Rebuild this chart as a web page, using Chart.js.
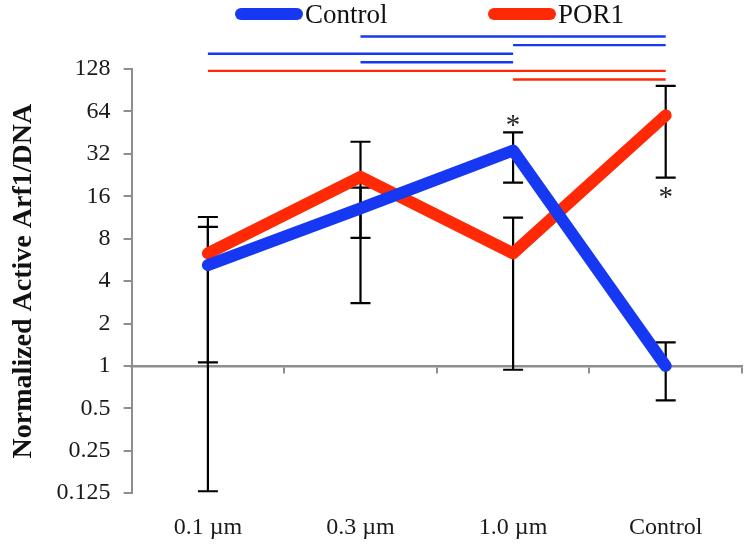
<!DOCTYPE html>
<html>
<head>
<meta charset="utf-8">
<script src="https://cdn.jsdelivr.net/npm/chart.js@4.4.1/dist/chart.umd.min.js"></script>
<style>
  html, body { margin: 0; padding: 0; background: #ffffff; }
  #wrap { width: 750px; height: 551px; position: relative; }
</style>
</head>
<body>
<div id="wrap"><canvas id="c" width="750" height="551"></canvas></div>
<script>
// ---- data ----
const categories = ['0.1 \u00b5m', '0.3 \u00b5m', '1.0 \u00b5m', 'Control'];
const yTicks = [0.125, 0.25, 0.5, 1, 2, 4, 8, 16, 32, 64, 128];

const controlValues = [5.2, 13.1, 33.8, 1.0];
const controlLow    = [0.129, 8.1, 20, 0.57];
const controlHigh   = [9.7, 18.4, 45.5, 1.47];

const por1Values = [6.3, 22, 6.3, 60];
const por1Low    = [1.06, 2.79, 0.94, 21.7];
const por1High   = [11.4, 39, 11.3, 97];

// significance bars: [seriesIndex, fromCategory, toCategory], top to bottom
const sigBars = [[0, 1, 3], [0, 2, 3], [0, 0, 2], [0, 1, 2], [1, 0, 3], [1, 2, 3]];
// asterisks: [seriesIndex, categoryIndex, side]
const stars = [[0, 2, 'above'], [1, 3, 'below']];

const BLUE = '#1638f2';
const RED = '#ff2a05';
const AXIS = '#8e8e8e';
const SERIF = "'Liberation Serif', 'Times New Roman', serif";

const errLow = [controlLow, por1Low];
const errHigh = [controlHigh, por1High];

const errorBarPlugin = {
  id: 'errorBars',
  beforeDatasetsDraw(chart) {
    const ctx = chart.ctx, x = chart.scales.x, y = chart.scales.y;
    ctx.save();
    ctx.strokeStyle = '#000';
    ctx.lineWidth = 2.2;
    for (let s = 0; s < 2; s++) {
      for (let i = 0; i < categories.length; i++) {
        const px = x.getPixelForValue(i);
        const y1 = y.getPixelForValue(errLow[s][i]);
        const y2 = y.getPixelForValue(errHigh[s][i]);
        ctx.beginPath();
        ctx.moveTo(px, y1); ctx.lineTo(px, y2);
        ctx.moveTo(px - 10, y1); ctx.lineTo(px + 10, y1);
        ctx.moveTo(px - 10, y2); ctx.lineTo(px + 10, y2);
        ctx.stroke();
      }
    }
    ctx.restore();
  }
};

const annotPlugin = {
  id: 'annot',
  afterDraw(chart) {
    const ctx = chart.ctx, x = chart.scales.x, y = chart.scales.y;
    const colors = [BLUE, RED];
    ctx.save();
    // significance bars
    ctx.lineWidth = 2.4;
    const top0 = chart.chartArea.top - 32.5;
    sigBars.forEach((b, k) => {
      const yy = top0 + k * 8.6;
      ctx.strokeStyle = colors[b[0]];
      ctx.beginPath();
      ctx.moveTo(x.getPixelForValue(b[1]), yy);
      ctx.lineTo(x.getPixelForValue(b[2]), yy);
      ctx.stroke();
    });
    // asterisks
    ctx.fillStyle = '#222';
    ctx.font = '29px ' + SERIF;
    ctx.textAlign = 'center';
    ctx.textBaseline = 'top';
    stars.forEach(st => {
      const px = x.getPixelForValue(st[1]);
      if (st[2] === 'above') {
        const py = y.getPixelForValue(errHigh[st[0]][st[1]]);
        ctx.fillText('*', px, py - 20);
      } else {
        const py = y.getPixelForValue(errLow[st[0]][st[1]]);
        ctx.fillText('*', px, py + 6);
      }
    });
    // legend
    ctx.font = '27px ' + SERIF;
    ctx.textAlign = 'left';
    ctx.textBaseline = 'middle';
    const items = chart.data.datasets.map(d => ({ label: d.label, color: d.borderColor }));
    const legendX = [235, 488];
    items.forEach((it, k) => {
      const lx = legendX[k], ly = 14;
      ctx.strokeStyle = it.color;
      ctx.lineWidth = 12;
      ctx.lineCap = 'round';
      ctx.beginPath();
      ctx.moveTo(lx + 6, ly); ctx.lineTo(lx + 62, ly);
      ctx.stroke();
      ctx.fillStyle = '#111';
      ctx.fillText(it.label, lx + 70, ly + 2);
    });
    ctx.restore();
  }
};

new Chart(document.getElementById('c'), {
  type: 'line',
  data: {
    labels: categories,
    datasets: [
      { label: 'Control', data: controlValues, borderColor: BLUE, backgroundColor: BLUE,
        borderWidth: 12, pointRadius: 0, borderCapStyle: 'round', borderJoinStyle: 'round',
        tension: 0, xAxisID: 'x', yAxisID: 'y' },
      { label: 'POR1', data: por1Values, borderColor: RED, backgroundColor: RED,
        borderWidth: 12, pointRadius: 0, borderCapStyle: 'round', borderJoinStyle: 'round',
        tension: 0, xAxisID: 'x', yAxisID: 'y' }
    ]
  },
  options: {
    responsive: false,
    animation: false,
    devicePixelRatio: 1,
    layout: { padding: { top: 69, right: 8, bottom: -11, left: 7 } },
    plugins: { legend: { display: false }, tooltip: { enabled: false } },
    scales: {
      x: {
        type: 'category',
        position: 'bottom',
        offset: true,
        grid: { display: false, drawTicks: false },
        border: { display: false },
        ticks: { color: '#1a1a1a', font: { family: SERIF, size: 24 }, padding: 20, maxRotation: 0 }
      },
      x2: {
        type: 'category',
        position: { y: 1 },
        offset: true,
        grid: { offset: true, drawOnChartArea: false, drawTicks: true, tickLength: 6, color: AXIS, lineWidth: 2 },
        border: { display: true, color: AXIS, width: 2.5 },
        ticks: { display: false },
        afterFit: axis => { axis.height = 0; }
      },
      y: {
        type: 'logarithmic',
        position: 'left',
        min: 0.125,
        max: 128,
        afterBuildTicks: axis => { axis.ticks = yTicks.map(v => ({ value: v })); },
        grid: { drawOnChartArea: false, drawTicks: true, tickLength: 8, color: AXIS, lineWidth: 2 },
        border: { display: true, color: AXIS, width: 2 },
        ticks: { color: '#1a1a1a', font: { family: SERIF, size: 24 }, padding: 13,
                 callback: v => String(v), autoSkip: false },
        title: { display: true, text: 'Normalized Active Arf1/DNA', color: '#111',
                 font: { family: SERIF, size: 28, weight: 'bold' }, padding: { top: 0, bottom: 3 } }
      }
    }
  },
  plugins: [errorBarPlugin, annotPlugin]
});
</script>
</body>
</html>
